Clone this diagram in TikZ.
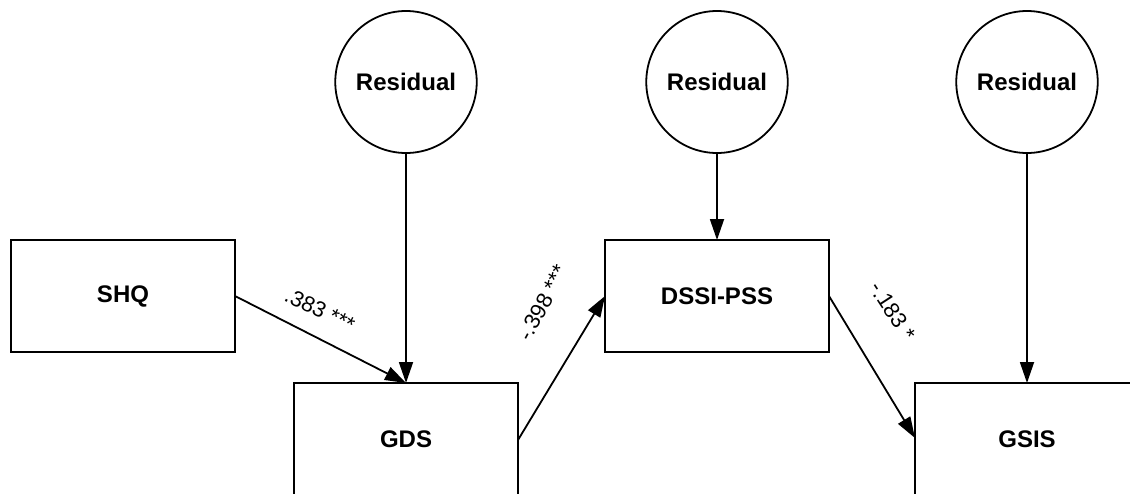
\documentclass[tikz,border=0pt]{standalone}
\usepackage{fontspec}
\setmainfont{Liberation Sans}
\usetikzlibrary{arrows.meta,shapes.geometric,calc}
\begin{document}
\begin{tikzpicture}[x=1pt,y=-1pt,
  every node/.style={inner sep=0pt, outer sep=0pt},
  varbox/.style={draw, line width=2pt, minimum width=224pt, minimum height=112pt,
    font=\fontsize{24}{28}\selectfont\bfseries},
  openbox/.style={minimum width=224pt, minimum height=112pt,
    font=\fontsize{24}{28}\selectfont\bfseries},
  resid/.style={draw, ellipse, line width=1.8pt, minimum width=137pt, minimum height=142pt,
    font=\fontsize{24}{28}\selectfont\bfseries},
  path/.style={line width=1.8pt, -{Triangle[length=21pt,width=14pt]}},
  coef/.style={font=\fontsize{22}{26}\selectfont}
]
\useasboundingbox (0,0) rectangle (1130,493);

% observed variables
\node[varbox] (SHQ) at (123,296) {SHQ};
\node[varbox] (DSSI) at (717,296) {DSSI-PSS};
\node[openbox] (GDS) at (406,439) {GDS};
\node[openbox] (GSIS) at (1027,439) {GSIS};
% the two lower boxes run past the bottom of the page
\draw[line width=2pt] ($(GDS.south west)+(0,12)$) -- (GDS.north west)
  -- (GDS.north east) -- ($(GDS.south east)+(0,12)$);
\draw[line width=2pt] ($(GSIS.south west)+(0,12)$) -- (GSIS.north west)
  -- (GSIS.north east) -- ($(GSIS.south east)+(0,12)$);

% residual terms
\node[resid] (r1) at (406,82) {Residual};
\node[resid] (r2) at (717,82) {Residual};
\node[resid] (r3) at (1027,82) {Residual};

% paths
\draw[path] (r1.south) -- (GDS.north);
\draw[path] (r2.south) -- (DSSI.north);
\draw[path] (r3.south) -- (GSIS.north);
\draw[path] (SHQ.east) -- (GDS.north);
\draw[path] ($(GDS.east)+(0,1)$) -- (DSSI.west);
\draw[path] (DSSI.east) -- ($(GSIS.west)+(0,-1)$);

% path coefficients
\node[coef, rotate=-26] (c1) at (320,310) {.383 ***};
\node[coef, rotate=62] (c2) at (543,303) {-.398 ***};
\node[coef, rotate=-57] (c3) at (893,311) {-.183 *};
\end{tikzpicture}
\end{document}
